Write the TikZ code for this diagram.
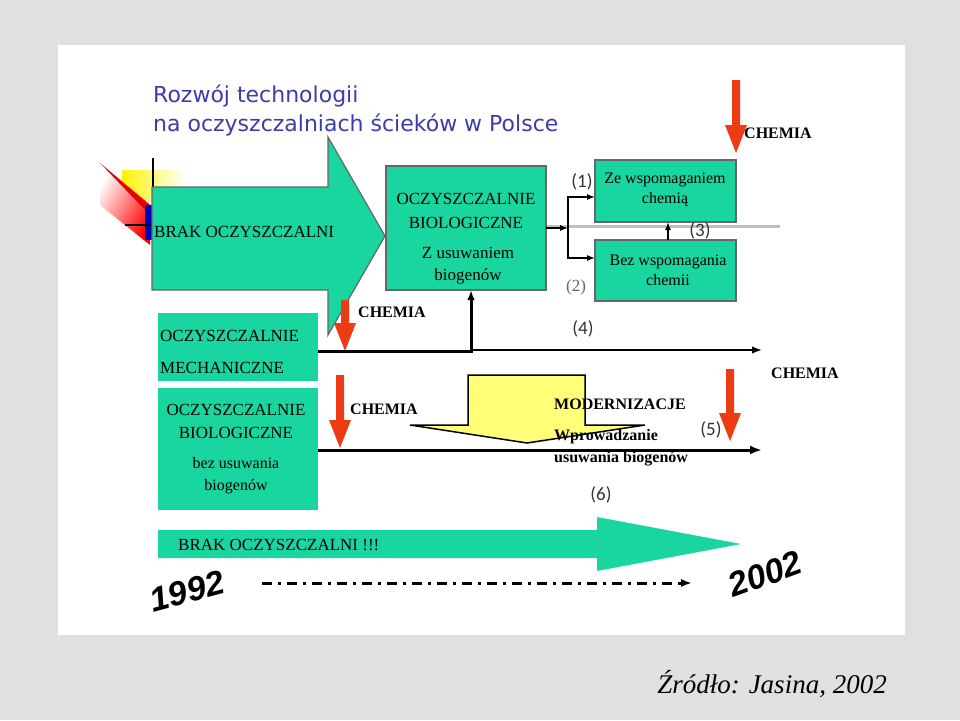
\documentclass[tikz,border=0pt]{standalone}
\usepackage{fontspec}
\setmainfont{Liberation Serif}
\newfontfamily\titlefont{DejaVu Sans}
\newfontfamily\labfont{Carlito}
\newfontfamily\yrfont{Liberation Sans}
\usetikzlibrary{arrows.meta}
\definecolor{grn}{RGB}{25,214,160}
\definecolor{ttl}{RGB}{60,60,170}
\definecolor{redc}{RGB}{235,60,20}
\definecolor{yel}{RGB}{255,255,120}
\tikzset{
 box/.style={draw=black!60,fill=grn,line width=1.2pt},
 txt/.style={font=\fontsize{16}{18}\selectfont,align=center,inner sep=0pt},
 chem/.style={font=\bfseries\fontsize{16}{18}\selectfont,inner sep=0pt},
 lab/.style={font=\labfont\fontsize{19}{21}\selectfont,inner sep=0pt,text=black!80},
 ln/.style={draw=black,line width=3pt},
}
\newcommand{\redarrow}[3]{% x, ytop, ybottom
 \fill[redc] (#1-4,#2) -- (#1+4,#2) -- (#1+4,#3-28) -- (#1+11,#3-28) -- (#1,#3) -- (#1-11,#3-28) -- (#1-4,#3-28) -- cycle;}
\begin{document}
\begin{tikzpicture}[x=1pt,y=-1pt]
\useasboundingbox (0,0) rectangle (960,720);
\fill[black!12] (0,0) rectangle (960,720);
\fill[white] (58,45) rectangle (905,635);
% title
\node[anchor=west,text=ttl,font=\titlefont\fontsize{22}{24}\selectfont,inner sep=0pt] (t1) at (153,96) {Rozwój technologii};
\node[anchor=west,text=ttl,font=\titlefont\fontsize{22}{24}\selectfont,inner sep=0pt] (t2) at (153,125) {na oczyszczalniach ścieków w Polsce};
% decoration
\shade[left color=yellow!90!orange,right color=white] (122,170) rectangle (185,200);
\shade[left color=white,right color=red,shading angle=60] (100,163) -- (150,205) -- (150,245) -- (100,205) -- cycle;
\fill[red!90!black] (100,163) -- (150,205) -- (150,215) -- cycle;
\fill[blue!75!black] (145,205) rectangle (156,240);
\draw[line width=2pt] (153,158) -- (153,240);
\draw[line width=2pt] (125,225) -- (155,225);
% faint line
\draw[black!25,line width=3pt] (385,226) -- (780,226);
% big arrow
\draw[box] (152,187) -- (328,187) -- (328,137) -- (385,236) -- (328,335) -- (328,290) -- (152,290) -- cycle;
\node[txt,anchor=west,font=\fontsize{17}{19}\selectfont] (brak) at (154,232) {BRAK OCZYSZCZALNI};
% bio box
\draw[box] (386,166) rectangle (546,290);
\node[txt,font=\fontsize{17}{19}\selectfont,align=center] (bio) at (466,211) {OCZYSZCZALNIE\\[5pt]BIOLOGICZNE};
\node[txt,font=\fontsize{17}{19}\selectfont] (biou) at (468,266) {Z usuwaniem\\[3pt]biogenów};
\coordinate (bior) at (546,228);
\coordinate (biob) at (471,290);
% upper right boxes
\draw[box] (595,160) rectangle (736,222);
\node[txt] (ze) at (665,190) {Ze wspomaganiem\\[2pt]chemią};
\draw[box] (595,240) rectangle (736,301);
\node[txt] (bez) at (668,270) {Bez wspomagania\\[2pt]chemii};
\coordinate (br) at (568,228);
\draw[-{Latex[length=8pt]},line width=1.3pt] (bior) -- (br);
\draw[-{Latex[length=8pt]},line width=1.3pt] (br) |- (595,197);
\draw[-{Latex[length=8pt]},line width=1.3pt] (br) |- (595,258);
\draw[-{Latex[length=8pt]},line width=1.3pt] (668,240) -- (668,222);
\node[lab] (l1) at (582,182) {(1)};
\node[lab,font=\fontsize{17}{19}\selectfont,text=black!60] (l2) at (576,287) {(2)};
\node[lab] (l3) at (700,231) {(3)};
\redarrow{736}{80}{153}
\node[chem,anchor=west] (c1) at (744,133) {CHEMIA};
% mechaniczne
\fill[grn] (158,313) rectangle (318,381);
\node[txt,anchor=west,font=\fontsize{17}{19}\selectfont] (m1) at (160,336) {OCZYSZCZALNIE};
\node[txt,anchor=west,font=\fontsize{17}{19}\selectfont] (m2) at (160,368) {MECHANICZNE};
\redarrow{345}{300}{351}
\node[chem,anchor=west] (c2) at (358,312) {CHEMIA};
\draw[ln,-{Latex[length=10pt]}] (318,351) -- (471,351) -- (biob);
\draw[line width=1.6pt,-{Latex[length=10pt]}] (471,350) -- (762,350);
\node[lab] (l4) at (583,329) {(4)};
% biologiczne bez
\fill[grn] (158,388) rectangle (318,510);
\node[txt,font=\fontsize{17}{19}\selectfont] (bb) at (236,421) {OCZYSZCZALNIE\\[4pt]BIOLOGICZNE};
\node[txt] (bb2) at (236,476) {bez usuwania\\[4pt]biogenów};
\redarrow{340}{375}{448}
\node[chem,anchor=west] (c3) at (350,409) {CHEMIA};
% yellow arrow
\draw[fill=yel,draw=black,line width=1.5pt] (468,375) -- (585,375) -- (585,425) -- (645,425) -- (527,443) -- (410,425) -- (468,425) -- cycle;
\draw[ln,-{Latex[length=12pt]}] (318,450) -- (762,450);
\node[chem,anchor=west] (mod) at (554,404) {MODERNIZACJE};
\node[txt,anchor=west,font=\bfseries\fontsize{16}{18}\selectfont] (wp) at (554,437) {Wprowadzanie};
\node[txt,anchor=west,font=\bfseries\fontsize{16}{18}\selectfont] (us) at (554,459) {usuwania biogenów};
\node[lab] (l5) at (711,430) {(5)};
\redarrow{730}{369}{441}
\node[chem,anchor=west] (c4) at (771,373) {CHEMIA};
\node[lab] (l6) at (601,495) {(6)};
% bottom arrow
\fill[grn] (158,530) -- (597,530) -- (597,517) -- (741,544) -- (597,571) -- (597,558) -- (158,558) -- cycle;
\node[txt,anchor=west,font=\fontsize{17}{19}\selectfont] (brak2) at (178,545) {BRAK OCZYSZCZALNI !!!};
\coordinate (ds) at (262,583);
\coordinate (de) at (692,583);
\draw[line width=3pt,dash pattern=on 10pt off 6pt on 3pt off 6pt,-{Latex[length=11pt]}] (ds) -- (de);
\node[font=\yrfont\bfseries\itshape\fontsize{34}{36}\selectfont,rotate=15,inner sep=0pt] (y1) at (187,591) {1992};
\node[font=\yrfont\bfseries\itshape\fontsize{34}{36}\selectfont,rotate=20,inner sep=0pt] (y2) at (765,574) {2002};
\node[font=\itshape\fontsize{27}{30}\selectfont,inner sep=0pt] (src) at (772,684) {Źródło: Jasina, 2002};
\end{tikzpicture}
\end{document}
